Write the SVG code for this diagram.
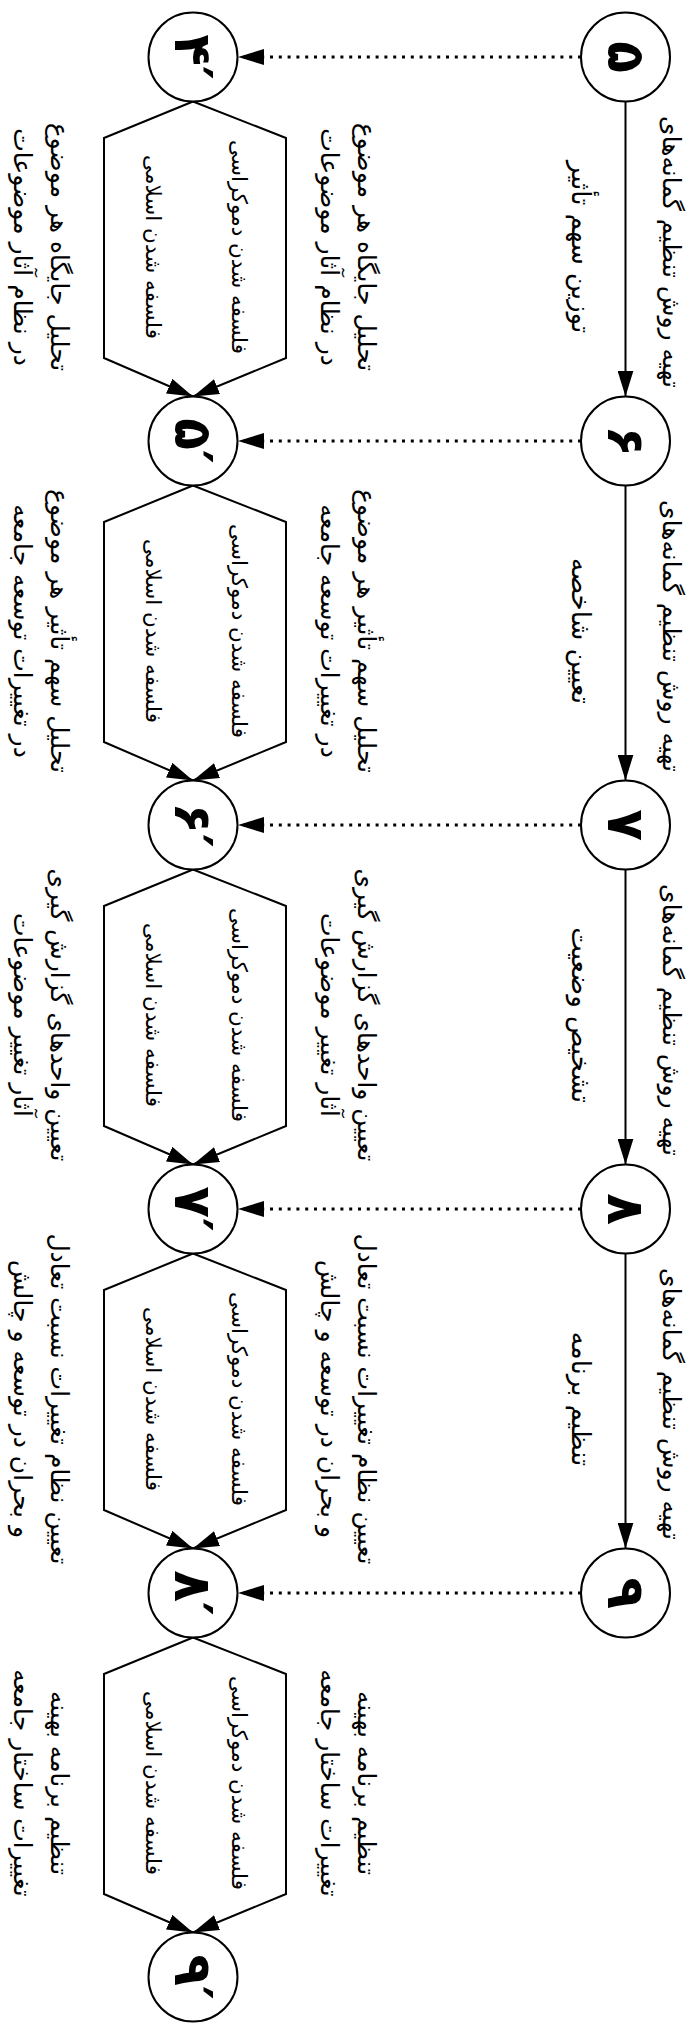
<svg xmlns="http://www.w3.org/2000/svg" width="698" height="2029" viewBox="0 0 698 2029">
<style>
  .nd circle { fill: #fff; stroke: #000; stroke-width: 2; }
  .num { font-family: "DejaVu Sans", sans-serif; font-weight: bold; font-size: 52px; fill: #000; }
  .lbl { font-family: "DejaVu Sans", sans-serif; font-size: 25px; fill: #000; }
  .lbl .in { font-size: 21.5px; }
  .lbl .r2 { font-size: 26px; }
  .e { stroke: #000; stroke-width: 2; fill: none; }
  .dot { stroke: #000; stroke-width: 3; fill: none; stroke-dasharray: 3 5.8; }
</style>
<defs>
  <marker id="ah" markerUnits="userSpaceOnUse" markerWidth="26" markerHeight="16" viewBox="0 0 26 16" refX="26" refY="8" orient="auto">
    <path d="M0,0 L26,8 L0,16 z" fill="#000"/>
  </marker>
</defs>
<g id="connectors">
  <line class="dot" x1="581" y1="57" x2="238" y2="57" marker-end="url(#ah)"/>
  <line class="dot" x1="581" y1="441" x2="238" y2="441" marker-end="url(#ah)"/>
  <line class="dot" x1="581" y1="825" x2="238" y2="825" marker-end="url(#ah)"/>
  <line class="dot" x1="581" y1="1209" x2="238" y2="1209" marker-end="url(#ah)"/>
  <line class="dot" x1="581" y1="1593" x2="238" y2="1593" marker-end="url(#ah)"/>
  <line class="e" x1="625.5" y1="101.5" x2="625.5" y2="396.5" marker-end="url(#ah)"/>
  <line class="e" x1="625.5" y1="485.5" x2="625.5" y2="780.5" marker-end="url(#ah)"/>
  <line class="e" x1="625.5" y1="869.5" x2="625.5" y2="1164.5" marker-end="url(#ah)"/>
  <line class="e" x1="625.5" y1="1253.5" x2="625.5" y2="1548.5" marker-end="url(#ah)"/>
  <path class="e" d="M193,101.5 L104,138 L104,358 L193,396.5" marker-end="url(#ah)"/>
  <path class="e" d="M193,101.5 L286,138 L286,358 L193,396.5" marker-end="url(#ah)"/>
  <path class="e" d="M193,485.5 L104,522 L104,742 L193,780.5" marker-end="url(#ah)"/>
  <path class="e" d="M193,485.5 L286,522 L286,742 L193,780.5" marker-end="url(#ah)"/>
  <path class="e" d="M193,869.5 L104,906 L104,1126 L193,1164.5" marker-end="url(#ah)"/>
  <path class="e" d="M193,869.5 L286,906 L286,1126 L193,1164.5" marker-end="url(#ah)"/>
  <path class="e" d="M193,1253.5 L104,1290 L104,1510 L193,1548.5" marker-end="url(#ah)"/>
  <path class="e" d="M193,1253.5 L286,1290 L286,1510 L193,1548.5" marker-end="url(#ah)"/>
  <path class="e" d="M193,1637.5 L104,1674 L104,1894 L193,1932.5" marker-end="url(#ah)"/>
  <path class="e" d="M193,1637.5 L286,1674 L286,1894 L193,1932.5" marker-end="url(#ah)"/>
</g>
<g id="labels" class="lbl" text-anchor="middle" dominant-baseline="central">
  <text transform="translate(671,252) rotate(90)">تهیه روش تنظیم گمانه‌های</text>
  <text class="r2" transform="translate(581,247) rotate(90)">توزین سهم تأثیر</text>
  <text transform="translate(671,636) rotate(90)">تهیه روش تنظیم گمانه‌های</text>
  <text class="r2" transform="translate(581,631) rotate(90)">تعیین شاخصه</text>
  <text transform="translate(671,1020) rotate(90)">تهیه روش تنظیم گمانه‌های</text>
  <text class="r2" transform="translate(581,1015) rotate(90)">تشخیص وضعیت</text>
  <text transform="translate(671,1404) rotate(90)">تهیه روش تنظیم گمانه‌های</text>
  <text class="r2" transform="translate(581,1399) rotate(90)">تنظیم برنامه</text>
  <text transform="translate(366,247) rotate(90)">تحلیل جایگاه هر موضوع</text>
  <text transform="translate(329,247) rotate(90)">در نظام آثار موضوعات</text>
  <text class="in" transform="translate(239,247) rotate(90)">فلسفه شدن دموکراسی</text>
  <text class="in" transform="translate(153,247) rotate(90)">فلسفه شدن اسلامی</text>
  <text transform="translate(59,247) rotate(90)">تحلیل جایگاه هر موضوع</text>
  <text transform="translate(22,247) rotate(90)">در نظام آثار موضوعات</text>
  <text transform="translate(366,631) rotate(90)">تحلیل سهم تأثیر هر موضوع</text>
  <text transform="translate(329,631) rotate(90)">در تغییرات توسعه جامعه</text>
  <text class="in" transform="translate(239,631) rotate(90)">فلسفه شدن دموکراسی</text>
  <text class="in" transform="translate(153,631) rotate(90)">فلسفه شدن اسلامی</text>
  <text transform="translate(59,631) rotate(90)">تحلیل سهم تأثیر هر موضوع</text>
  <text transform="translate(22,631) rotate(90)">در تغییرات توسعه جامعه</text>
  <text transform="translate(366,1015) rotate(90)">تعیین واحدهای گزارش گیری</text>
  <text transform="translate(329,1015) rotate(90)">آثار تغییر موضوعات</text>
  <text class="in" transform="translate(239,1015) rotate(90)">فلسفه شدن دموکراسی</text>
  <text class="in" transform="translate(153,1015) rotate(90)">فلسفه شدن اسلامی</text>
  <text transform="translate(59,1015) rotate(90)">تعیین واحدهای گزارش گیری</text>
  <text transform="translate(22,1015) rotate(90)">آثار تغییر موضوعات</text>
  <text transform="translate(366,1399) rotate(90)">تعیین نظام تغییرات نسبت تعادل</text>
  <text transform="translate(329,1399) rotate(90)">و بحران در توسعه و چالش</text>
  <text class="in" transform="translate(239,1399) rotate(90)">فلسفه شدن دموکراسی</text>
  <text class="in" transform="translate(153,1399) rotate(90)">فلسفه شدن اسلامی</text>
  <text transform="translate(59,1399) rotate(90)">تعیین نظام تغییرات نسبت تعادل</text>
  <text transform="translate(22,1399) rotate(90)">و بحران در توسعه و چالش</text>
  <text transform="translate(366,1783) rotate(90)">تنظیم برنامه بهینه</text>
  <text transform="translate(329,1783) rotate(90)">تغییرات ساختار جامعه</text>
  <text class="in" transform="translate(239,1783) rotate(90)">فلسفه شدن دموکراسی</text>
  <text class="in" transform="translate(153,1783) rotate(90)">فلسفه شدن اسلامی</text>
  <text transform="translate(59,1783) rotate(90)">تنظیم برنامه بهینه</text>
  <text transform="translate(22,1783) rotate(90)">تغییرات ساختار جامعه</text>
</g>
<g id="n5" class="nd"><circle cx="625.5" cy="57" r="44.5"/><text class="num" text-anchor="middle" dominant-baseline="central" transform="translate(625.5,57) rotate(90)">۵</text></g>
<g id="n6" class="nd"><circle cx="625.5" cy="441" r="44.5"/><text class="num" text-anchor="middle" dominant-baseline="central" transform="translate(625.5,441) rotate(90)">۶</text></g>
<g id="n7" class="nd"><circle cx="625.5" cy="825" r="44.5"/><text class="num" text-anchor="middle" dominant-baseline="central" transform="translate(625.5,825) rotate(90)">۷</text></g>
<g id="n8" class="nd"><circle cx="625.5" cy="1209" r="44.5"/><text class="num" text-anchor="middle" dominant-baseline="central" transform="translate(625.5,1209) rotate(90)">۸</text></g>
<g id="n9" class="nd"><circle cx="625.5" cy="1593" r="44.5"/><text class="num" text-anchor="middle" dominant-baseline="central" transform="translate(625.5,1593) rotate(90)">۹</text></g>
<g id="n4p" class="nd"><circle cx="193" cy="57" r="44.5"/><text class="num" text-anchor="middle" dominant-baseline="central" direction="ltr" transform="translate(193,57) rotate(90)">۴′</text></g>
<g id="n5p" class="nd"><circle cx="193" cy="441" r="44.5"/><text class="num" text-anchor="middle" dominant-baseline="central" direction="ltr" transform="translate(193,441) rotate(90)">۵′</text></g>
<g id="n6p" class="nd"><circle cx="193" cy="825" r="44.5"/><text class="num" text-anchor="middle" dominant-baseline="central" direction="ltr" transform="translate(193,825) rotate(90)">۶′</text></g>
<g id="n7p" class="nd"><circle cx="193" cy="1209" r="44.5"/><text class="num" text-anchor="middle" dominant-baseline="central" direction="ltr" transform="translate(193,1209) rotate(90)">۷′</text></g>
<g id="n8p" class="nd"><circle cx="193" cy="1593" r="44.5"/><text class="num" text-anchor="middle" dominant-baseline="central" direction="ltr" transform="translate(193,1593) rotate(90)">۸′</text></g>
<g id="n9p" class="nd"><circle cx="193" cy="1977" r="44.5"/><text class="num" text-anchor="middle" dominant-baseline="central" direction="ltr" transform="translate(193,1977) rotate(90)">۹′</text></g>
</svg>
